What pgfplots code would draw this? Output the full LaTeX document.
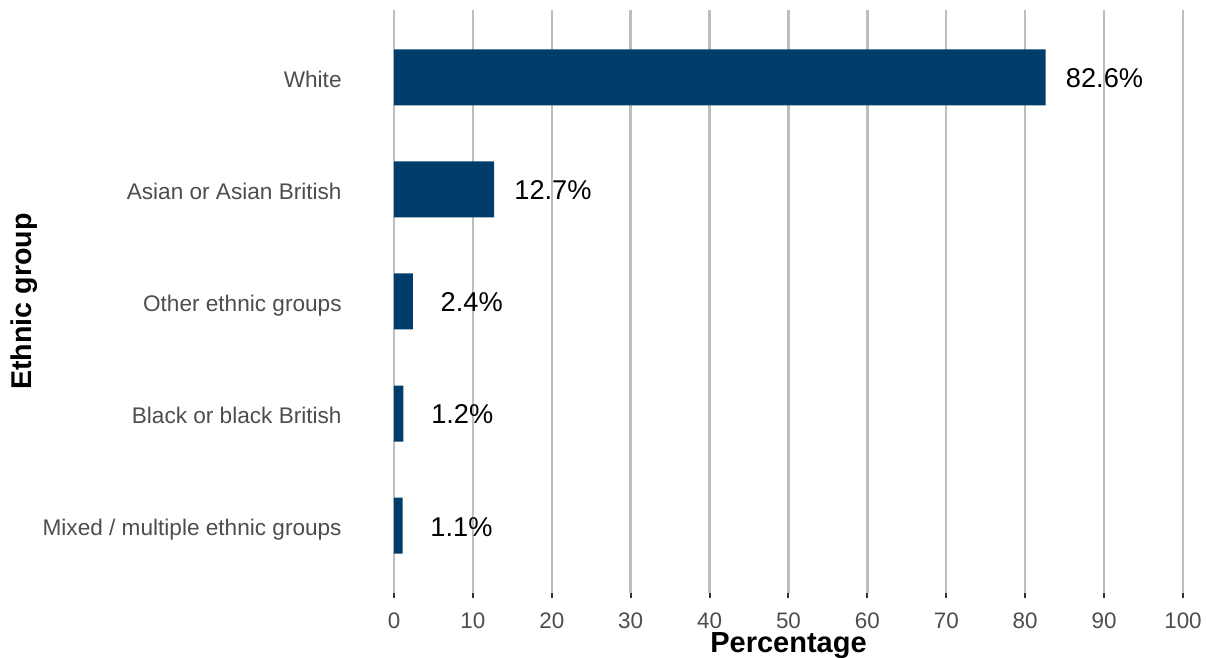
\documentclass[border=0pt]{standalone}
\usepackage{fontspec}
\setmainfont{Liberation Sans}
\usepackage{pgfplots}
\pgfplotsset{compat=1.18}
\usepackage{pgfplotstable}
\definecolor{barblue}{HTML}{003D6A}
\definecolor{gridgray}{HTML}{BEBEBE}
\definecolor{ticktext}{HTML}{4D4D4D}
\definecolor{tickmark}{HTML}{333333}
\pgfplotstableread{
y x
5 82.6
4 12.7
3 2.4
2 1.2
1 1.1
}\datatable
\begin{document}
\begin{tikzpicture}
\begin{axis}[
  scale only axis,
  width=394.5pt, height=291.5pt,
  xmin=0, xmax=100, ymin=0.4, ymax=5.6,
  clip=false,
  xbar, bar width=28pt,
  axis line style={draw=none},
  xtick={0,10,...,100},
  xtick pos=lower, xtick align=outside,
  major tick length=2.5pt,
  xtick style={draw=tickmark, line width=1pt},
  ytick={1,2,3,4,5},
  yticklabels={Mixed / multiple ethnic groups, Black or black British, Other ethnic groups, Asian or Asian British, White},
  ytick style={draw=none},
  xmajorgrids,
  major grid style={draw=gridgray, line width=1.2pt},
  /pgf/number format/assume math mode=true,
  xticklabel style={font=\fontsize{11.2}{13}\selectfont, text=ticktext, anchor=base, yshift=-15.15pt},
  yticklabel style={font=\fontsize{11.3}{13}\selectfont, text=ticktext, anchor=base east, inner sep=0pt, xshift=-23.5pt, yshift=-5pt},
  xlabel={Percentage},
  ylabel={Ethnic group},
  xlabel style={at={([yshift=-30pt]axis description cs:0.5,0)}, anchor=base, font=\fontsize{14.5}{16}\selectfont\bfseries},
  ylabel style={at={([xshift=-181pt]axis description cs:0,0.5)}, rotate=0, anchor=base, font=\fontsize{14.3}{16}\selectfont\bfseries},
  point meta=x,
  nodes near coords={\pgfmathprintnumber[fixed, fixed zerofill, precision=1]{\pgfplotspointmeta}\%},
  nodes near coords style={font=\fontsize{13.6}{15}\selectfont, text=black, anchor=base, xshift=29.4pt, yshift=-5.15pt},
]
\addplot[fill=barblue, draw=none] table[x=x, y=y] {\datatable};
\coordinate (bl) at (rel axis cs:0,0);
\coordinate (tr) at (rel axis cs:1,1);
\end{axis}
\pgfresetboundingbox
\path[use as bounding box] ([xshift=-197pt, yshift=-32.5pt]bl) rectangle ([xshift=11.5pt, yshift=5pt]tr);
\end{tikzpicture}
\end{document}
